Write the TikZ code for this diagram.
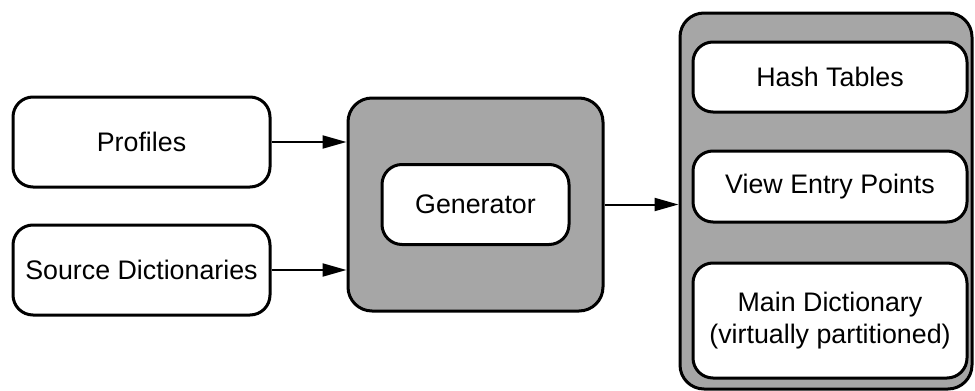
\documentclass[tikz,border=0pt]{standalone}
\usepackage{fontspec}
\setmainfont{Liberation Sans}
\usetikzlibrary{arrows.meta, positioning}

\tikzset{
  box/.style={draw, line width=1.5pt, rounded corners=10pt, fill=white,
    align=center, inner sep=0pt, font=\fontsize{13.4}{16}\selectfont},
  shaded/.style={draw, line width=1.5pt, rounded corners=12pt, fill=black!35},
  feed/.style={line width=1pt, -{Triangle[length=12pt,width=6.5pt]}},
}

\begin{document}
\begin{tikzpicture}[x=0.5pt, y=-0.5pt]
  \useasboundingbox (0,0) rectangle (975,391);

  % inputs
  \node[box, minimum width=128.5pt, minimum height=45pt] (profiles) at (141.5,142) {Profiles};
  \node[box, minimum width=128.5pt, minimum height=45pt, below=17.5pt of profiles] (sources) {Source Dictionaries};

  % generator
  \node[shaded, minimum width=127.5pt, minimum height=106.5pt] (gen) at (475.5,204.5) {};
  \node[box, minimum width=93.5pt, minimum height=40pt] (genbox) at (gen) {Generator};

  % output store
  \node[shaded, minimum width=146pt, minimum height=188pt] (store) at (826,201) {};
  \node[box, minimum width=137pt, minimum height=35pt] (hash) at (830,77) {Hash Tables};
  \node[box, minimum width=137pt, minimum height=35.5pt, below=18pt of hash] (view) {View Entry Points};
  \node[box, minimum width=137pt, minimum height=57.5pt, below=19pt of view] (main) {Main Dictionary\\(virtually partitioned)};

  \draw[feed] (profiles.east) -- (profiles.east -| gen.west);
  \draw[feed] (sources.east) -- (sources.east -| gen.west);
  \draw[feed] (gen.east) -- (gen.east -| store.west);
\end{tikzpicture}
\end{document}
